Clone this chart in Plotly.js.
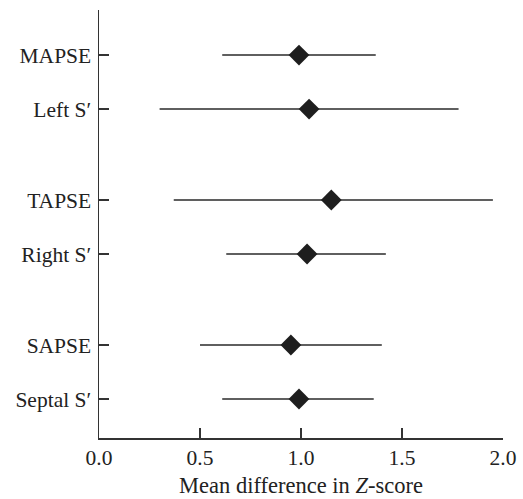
<!DOCTYPE html>
<html>
<head>
<meta charset="utf-8">
<script src="https://cdn.plot.ly/plotly-3.0.1.min.js"></script>
<style>html,body{margin:0;padding:0;background:#fff;}#chart{width:523px;height:499px;}</style>
</head>
<body>
<div id="chart"></div>
<script>
// Data
const groups = [
  ["MAPSE", "Left S′"],
  ["TAPSE", "Right S′"],
  ["SAPSE", "Septal S′"]
];
const labels = ["MAPSE", "Left S′", "TAPSE", "Right S′", "SAPSE", "Septal S′"];
const meanDiff = [0.99, 1.04, 1.15, 1.03, 0.95, 0.99];
const ciLower  = [0.61, 0.30, 0.37, 0.63, 0.50, 0.61];
const ciUpper  = [1.37, 1.78, 1.95, 1.42, 1.40, 1.36];

// Layout positions: items 1 unit apart, groups separated by an extra gap
const groupGap = 0.685;
const yPos = [];
let pos = 0;
for (let g = groups.length - 1; g >= 0; g--) {
  for (let i = groups[g].length - 1; i >= 0; i--) {
    yPos.unshift(pos);
    pos += 1;
  }
  pos += groupGap;
}
const yVals = labels.map((lab, k) => yPos[k]);

const trace = {
  type: "scatter",
  mode: "markers",
  x: meanDiff,
  y: yVals,
  error_x: {
    type: "data",
    symmetric: false,
    array: meanDiff.map((m, k) => ciUpper[k] - m),
    arrayminus: meanDiff.map((m, k) => m - ciLower[k]),
    color: "#2a2a2a",
    thickness: 1.5,
    width: 0
  },
  marker: { symbol: "diamond", size: 16, color: "#1e1e1e", line: { width: 0 } },
  hoverinfo: "x+y"
};

const font = "Liberation Serif, Times New Roman, serif";
const fs = 21.5;
const layout = {
  width: 523,
  height: 499,
  margin: { l: 99, r: 20, t: 10, b: 61 },
  paper_bgcolor: "#fff",
  plot_bgcolor: "#fff",
  showlegend: false,
  font: { family: font, size: fs, color: "#222" },
  xaxis: {
    range: [0, 2],
    tickvals: [0, 0.5, 1, 1.5, 2],
    ticktext: ["0.0", "0.5", "1.0", "1.5", "2.0"],
    ticks: "inside",
    ticklen: 10,
    tickwidth: 1.5,
    tickcolor: "#333",
    showline: true,
    linecolor: "#333",
    linewidth: 1.5,
    showgrid: false,
    zeroline: false,
    tickfont: { family: font, size: fs, color: "#222" },
    title: { text: "Mean difference in <i>Z</i>-score", font: { family: font, size: 22.5, color: "#222" }, standoff: 8 }
  },
  yaxis: {
    range: [-0.722, 7.204],
    tickvals: yVals,
    ticktext: labels,
    ticks: "inside",
    ticklen: 10,
    tickwidth: 1.5,
    tickcolor: "#333",
    ticklabelstandoff: 2,
    showline: true,
    linecolor: "#333",
    linewidth: 1.5,
    showgrid: false,
    zeroline: false,
    tickfont: { family: font, size: fs, color: "#222" }
  }
};

Plotly.newPlot("chart", [trace], layout, { displayModeBar: false, staticPlot: true });
</script>
</body>
</html>
